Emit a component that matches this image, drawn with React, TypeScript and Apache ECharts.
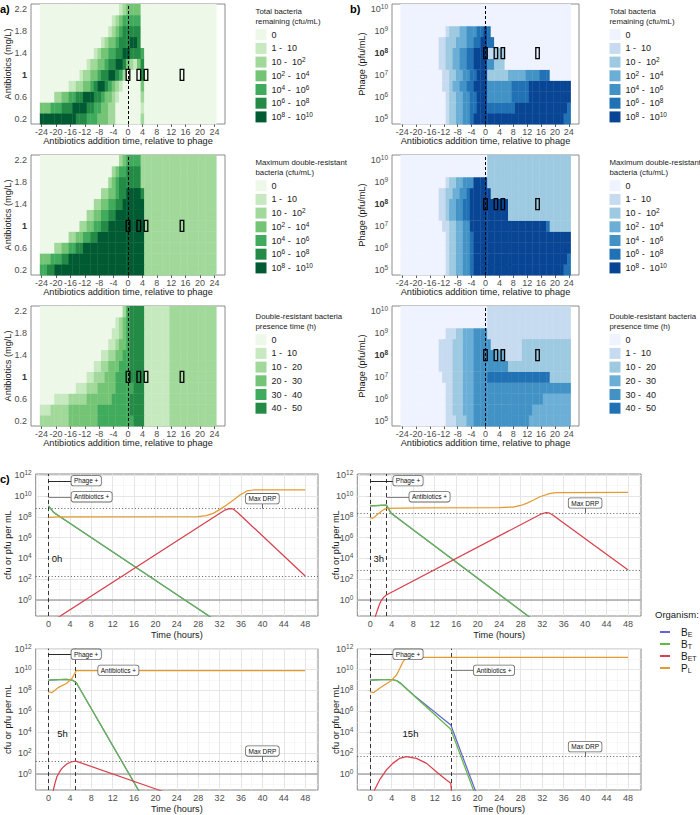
import React, { useEffect, useRef } from 'react';
import * as echarts from 'echarts';

const FONT = '"Liberation Sans", Arial, Helvetica, sans-serif';

// ---------- heatmap axes ----------
const abxLevels = ['0.2', '0.4', '0.6', '0.8', '1', '1.2', '1.4', '1.6', '1.8', '2', '2.2'];
const phageLevels = ['5', '5.5', '6', '6.5', '7', '7.5', '8', '8.5', '9', '9.5', '10'];
const timeTicks = [-24, -20, -16, -12, -8, -4, 0, 4, 8, 12, 16, 20, 24];
const firstHour = -24;
const hourCount = 49;
const markedTimes = [0, 3, 5, 15];
const markedAbxRow = 4; // 1 mg/L
const markedPhageRow = 6; // 1e8 pfu/mL

const legend7 = ['0', '1 -  10', '10 -  10{s|2}', '10{s|2} -  10{s|4}', '10{s|4} -  10{s|6}', '10{s|6} -  10{s|8}', '10{s|8} -  10{s|10}'];
const legend6 = ['0', '1 -  10', '10 -  20', '20 -  30', '30 -  40', '40 -  50'];

const greens = ['#edf8e9', '#c7e9c0', '#a1d99b', '#74c476', '#41ab5d', '#238b45', '#005a32'];
const blues = ['#eff3ff', '#c6dbef', '#9ecae1', '#6baed6', '#4292c6', '#2171b5', '#084594'];

// rows listed bottom -> top, run-length "class*count" from -24h to +24h
const aTotal = [
  '6*10 5*3 4*3 3*3 2*2 0*7 2*1 0*20',
  '3*3 4*3 5*3 6*4 5*2 4*2 3*2 2*2 0*7 1*1 0*20',
  '0*4 2*2 3*2 4*2 5*2 6*3 5*2 4*1 3*2 2*1 1*1 0*6 2*1 0*20',
  '0*8 1*2 2*2 3*2 4*1 5*1 6*2 5*1 4*1 3*1 2*1 1*1 0*5 3*1 0*20',
  '0*11 1*1 2*2 3*2 4*1 5*2 6*2 5*1 4*1 2*1 0*4 5*1 0*20',
  '0*13 1*1 2*2 3*2 4*1 5*2 6*2 5*1 3*1 2*1 1*1 3*1 5*1 0*20',
  '0*15 1*1 2*1 3*2 4*2 5*2 6*2 5*3 4*1 0*20',
  '0*17 1*1 2*1 3*2 4*1 5*2 5*1 6*2 5*1 0*21',
  '0*19 1*1 2*1 3*1 4*1 5*1 5*4 0*21',
  '0*20 1*1 2*1 3*1 4*1 4*4 0*21',
  '0*22 1*1 2*1 3*4 0*21',
];
const aMax = [
  '4*2 5*2 6*25 2*20',
  '3*3 4*3 5*2 6*21 2*20',
  '0*4 2*2 3*2 4*2 5*2 6*17 2*20',
  '0*8 2*2 3*2 4*2 5*2 6*13 2*20',
  '0*11 2*2 3*2 4*2 5*2 6*10 2*20',
  '0*13 2*2 3*2 4*2 5*2 6*8 2*20',
  '0*15 2*2 3*2 4*2 5*2 6*6 2*20',
  '0*17 2*2 3*2 4*1 5*2 6*4 5*1 2*20',
  '0*19 2*1 3*1 4*1 5*6 2*21',
  '0*20 2*1 3*1 4*2 5*4 2*21',
  '0*22 2*1 3*1 4*4 2*21',
];
const aTime = [
  '2*8 3*8 4*10 5*3 1*7 2*13',
  '1*3 2*5 3*8 4*9 5*4 1*7 2*13',
  '0*4 1*4 2*5 3*7 4*5 5*4 1*7 2*13',
  '0*10 1*3 2*3 3*5 4*5 5*3 1*7 2*13',
  '0*13 1*2 2*3 3*3 4*4 5*4 1*7 2*13',
  '0*15 1*2 2*2 3*3 4*3 5*4 1*7 2*13',
  '0*17 1*2 2*2 3*2 4*2 5*4 1*7 2*13',
  '0*19 1*2 2*1 3*2 4*1 5*4 1*7 2*13',
  '0*20 1*2 2*1 3*1 4*1 5*4 1*7 2*13',
  '0*21 1*1 2*1 3*1 4*1 5*4 1*7 2*13',
  '0*23 2*1 4*1 5*4 1*7 2*13',
];
const bTotal = [
  '0*13 1*1 2*2 3*2 4*2 5*1 6*26 5*2',
  '0*13 1*1 2*2 3*2 4*2 5*2 6*3 5*8 6*15 5*1',
  '0*13 1*1 2*2 3*2 4*2 5*2 6*3 4*7 5*5 6*12',
  '0*12 1*2 2*1 3*2 4*2 5*2 6*4 4*7 5*5 6*12',
  '0*12 1*2 2*2 3*2 4*2 5*2 6*3 2*6 3*5 4*4 5*3 0*6',
  '0*11 1*2 2*2 3*2 4*2 5*2 6*4 4*2 2*3 0*19',
  '0*11 1*2 2*2 3*2 4*2 5*2 6*4 1*2 2*3 0*19',
  '0*11 1*2 2*3 3*3 4*2 5*2 6*2 5*2 0*22',
  '0*13 1*1 2*3 3*2 4*3 5*2 6*1 5*1 0*23',
  '0*49',
  '0*49',
];
const bMax = [
  '0*13 1*1 2*2 3*2 4*2 5*1 6*26 5*2',
  '0*13 1*1 2*2 3*2 4*2 5*1 6*27 5*1',
  '0*13 1*1 2*2 3*2 4*2 5*1 6*28',
  '0*13 1*1 2*2 3*2 4*2 5*1 6*28',
  '0*12 1*2 2*2 3*2 4*2 6*22 5*1 2*6',
  '0*11 1*2 2*1 3*2 4*2 5*2 6*11 2*18',
  '0*11 1*2 2*1 3*2 4*2 5*2 6*11 2*18',
  '0*11 1*2 2*2 3*2 4*2 5*1 6*6 2*23',
  '0*13 1*1 2*2 3*2 4*3 6*4 2*24',
  '0*25 2*24',
  '0*25 2*24',
];
const bTime = [
  '0*13 1*3 2*3 3*2 4*16 3*12',
  '0*13 1*2 2*3 3*3 4*17 3*11',
  '0*13 1*2 2*3 3*3 4*20 3*8',
  '0*13 1*2 2*3 3*3 4*28',
  '0*12 1*3 2*3 3*3 4*4 5*18 2*6',
  '0*11 1*4 2*3 3*3 4*10 2*18',
  '0*11 1*4 2*3 3*3 4*6 3*3 1*5 2*14',
  '0*11 1*4 2*3 3*3 4*5 1*9 2*14',
  '0*13 1*3 2*2 3*3 4*4 1*24',
  '0*25 1*24',
  '0*25 1*24',
];

// ---------- time-course panels (log10 values) ----------
const timeBreaks = [0, 4, 8, 12, 16, 20, 24, 28, 32, 36, 40, 44, 48];
const timeMinor = [-2, 2, 6, 10, 14, 18, 22, 26, 30, 34, 38, 42, 46, 50];
const decadeBreaks = [0, 2, 4, 6, 8, 10, 12];
const decadeMinor = [-1, 1, 3, 5, 7, 9, 11];

const t0BT = [[0, 9.05], [0.5, 8.72], [1, 8.42], [1.6, 8.2], [25.5, 0], [31, -1.88]];
const t0BE = [[0, 9.05], [0.5, 8.72], [1, 8.42], [1.6, 8.2], [25.5, 0], [31, -1.88]];
const t0BET = [[0, -2.27], [33, 8.66], [33.8, 8.8], [34.5, 8.78], [35.3, 8.45], [48, 2.31]];
const t0PL = [[0, 7.96], [2, 8.0], [28, 8.02], [29.5, 8.12], [30.8, 8.34], [32, 8.7], [33.3, 9.14], [34.6, 9.62], [35.8, 10.1], [37.1, 10.5], [38.3, 10.59], [48, 10.6]];

const t3BT = [[0, 9.05], [3, 9.13], [3.4, 8.8], [3.9, 8.34], [25.4, 0], [30, -1.78]];
const t3BE = [[0, 9.05], [3, 9.13], [3.4, 8.8], [3.9, 8.34], [25.4, 0], [30, -1.78]];
const t3BET = [[0.8, -2.1], [1.0, -1.5], [1.6, -0.6], [2, -0.1], [2.5, 0.25], [3, 0.48], [31.9, 8.3], [32.6, 8.4], [33.3, 8.38], [33.9, 8.2], [48, 2.89]];
const t3PL = [[0, 7.96], [0.5, 7.86], [1.5, 8.3], [2.5, 8.7], [3, 8.82], [10, 8.86], [24, 8.9], [26.6, 8.95], [28, 9.1], [29.1, 9.3], [30.5, 9.65], [31.6, 9.94], [33.5, 10.26], [34.7, 10.33], [48, 10.35]];

const t5BT = [[0, 9.0], [2, 9.05], [3.4, 9.07], [4.4, 9.0], [5.2, 8.74], [16.8, -1.53], [17.5, -2.15]];
const t5BE = [[0, 9.0], [2, 9.05], [3.4, 9.07], [4.4, 9.0], [5.2, 8.74], [16.8, -1.53], [17.5, -2.15]];
const t5BET = [[0.7, -2.5], [0.9, -1.53], [1.2, -0.9], [1.56, -0.26], [2, 0.15], [2.5, 0.54], [3.4, 0.96], [4.2, 1.15], [5.1, 1.24], [20.6, -1.53], [21.5, -1.69]];
const t5PL = [[0, 7.88], [0.6, 7.79], [1.9, 8.3], [3.4, 8.69], [4.4, 9.17], [5.2, 9.9], [48, 9.9]];

const t15BT = [[0, 9.0], [2, 9.05], [4, 9.05], [4.9, 8.95], [5.7, 8.65], [15, 4.28], [19.5, -1.93]];
const t15BE = [[0, 9.0], [2, 9.05], [4, 9.05], [4.9, 8.95], [5.7, 8.68], [8, 7.6], [15, 4.69], [19.8, -1.9]];
const t15BET = [[0.5, -2.5], [0.8, -1.53], [1.74, -0.57], [3, 0.38], [4.2, 1.02], [5.5, 1.5], [6.7, 1.66], [8.6, 1.5], [10.5, 1.02], [12.3, 0.22], [14.2, -0.57], [15, -0.89], [15.3, -2.5]];
const t15PL = [[0, 7.88], [0.6, 7.79], [2, 8.3], [3.9, 8.94], [4.9, 9.48], [5.5, 10.1], [6.1, 10.76], [6.7, 11.1], [7.5, 11.17], [48, 11.17]];

const phageTimes = [0, 0, 0, 0];
const abxTimes = [0, 3, 5, 15];
const panelNames = ['0h', '3h', '5h', '15h'];
const maxDrp = [8.8, 8.38, 1.24, 1.66];
const finalDrp: (number | null)[] = [2.31, 2.89, null, null];

const seriesColors = { BE: '#6464d6', BT: '#63b946', BET: '#d8404d', PL: '#e39a2f' };

function decode(rows: string[]) {
  const out: number[][] = [];
  rows.forEach((row, r) => {
    const cls: number[] = [];
    row.trim().split(/\s+/).forEach((tok) => {
      const [c, n] = tok.split('*').map(Number);
      for (let k = 0; k < n; k++) cls.push(c);
    });
    while (cls.length < hourCount) cls.push(cls[cls.length - 1]);
    for (let i = 0; i < hourCount; i++) out.push([firstHour + i, r, cls[i]]);
  });
  return out;
}

const tickText = { fontSize: 9, color: '#4d4d4d', fontFamily: FONT };
const supRich = {
  n: { fontSize: 9, color: '#4d4d4d', fontFamily: FONT, lineHeight: 12 },
  s: { fontSize: 6.5, color: '#4d4d4d', fontFamily: FONT, verticalAlign: 'top', lineHeight: 8 },
  nb: { fontSize: 9, color: '#333', fontFamily: FONT, lineHeight: 12, fontWeight: 'bold' },
  sb: { fontSize: 6.5, color: '#333', fontFamily: FONT, verticalAlign: 'top', lineHeight: 8, fontWeight: 'bold' },
  b: { fontSize: 9, color: '#333', fontFamily: FONT, fontWeight: 'bold' },
};

function buildOption() {
  const heat = [
    { rows: aTotal, pal: greens, kind: 'abx', left: 31, width: 194, top: 4, title: ['Total bacteria', 'remaining (cfu/mL)'], labels: legend7, lx: 255.5, loff: 0 },
    { rows: aMax, pal: greens, kind: 'abx', left: 31, width: 194, top: 155, title: ['Maximum double-resistant', 'bacteria (cfu/mL)'], labels: legend7, lx: 255.5, loff: 151 },
    { rows: aTime, pal: greens, kind: 'abx', left: 31, width: 194, top: 306, title: ['Double-resistant bacteria', 'presence time (h)'], labels: legend6, lx: 255.5, loff: 305 },
    { rows: bTotal, pal: blues, kind: 'phage', left: 392, width: 187, top: 4, title: ['Total bacteria', 'remaining (cfu/mL)'], labels: legend7, lx: 609.5, loff: 0 },
    { rows: bMax, pal: blues, kind: 'phage', left: 392, width: 187, top: 155, title: ['Maximum double-resistant', 'bacteria (cfu/mL)'], labels: legend7, lx: 609.5, loff: 151 },
    { rows: bTime, pal: blues, kind: 'phage', left: 392, width: 187, top: 306, title: ['Double-resistant bacteria', 'presence time (h)'], labels: legend6, lx: 609.5, loff: 305 },
  ];
  const cPanels = [
    { left: 35.7, top: 474, width: 282.3, height: 142, yMin: -1.54, yMax: 12.13, BE: t0BE, BT: t0BT, BET: t0BET, PL: t0PL, lab: [1.6, 3.95], ytx: 8 },
    { left: 357.3, top: 474, width: 283.7, height: 142, yMin: -1.54, yMax: 12.13, BE: t3BE, BT: t3BT, BET: t3BET, PL: t3PL, lab: [1.6, 3.95], ytx: 336 },
    { left: 35.7, top: 648.7, width: 282.3, height: 141.3, yMin: -1.53, yMax: 12.0, BE: t5BE, BT: t5BT, BET: t5BET, PL: t5PL, lab: [2.6, 3.9], ytx: 8 },
    { left: 357.3, top: 648.7, width: 283.7, height: 141.3, yMin: -1.53, yMax: 12.0, BE: t15BE, BT: t15BT, BET: t15BET, PL: t15PL, lab: [7.5, 3.9], ytx: 336 },
  ];

  const grids: any[] = [];
  const xAxes: any[] = [];
  const yAxes: any[] = [];
  const series: any[] = [];
  const graphic: any[] = [];

  const txt = (x: number, y: number, text: string, extra: any = {}, rot = 0) => ({
    type: 'text', x, y, rotation: rot, silent: true,
    style: { text, fontSize: 9, fill: '#1a1a1a', fontFamily: FONT, align: 'left', verticalAlign: 'middle', ...extra },
  });

  heat.forEach((p, i) => {
    grids.push({ left: p.left, top: p.top, width: p.width, height: 120, show: true, borderColor: '#6e6e6e', borderWidth: 0.8, backgroundColor: 'transparent' });
    xAxes.push({
      type: 'value', gridIndex: i, min: -26.95, max: 26.95,
      axisLine: { show: false },
      axisTick: { show: true, length: 3, customValues: timeTicks, lineStyle: { color: '#333', width: 0.8 } },
      axisLabel: { customValues: timeTicks, ...tickText, margin: 3, formatter: (v: number) => String(v) },
      splitLine: { show: false },
    });
    const levels = p.kind === 'abx' ? abxLevels : phageLevels;
    yAxes.push({
      type: 'category', gridIndex: i, data: levels, boundaryGap: true,
      axisLine: { show: false },
      axisTick: { show: true, alignWithLabel: true, interval: 0, length: 3, lineStyle: { color: '#333', width: 0.8 } },
      axisLabel: {
        interval: 0, margin: 4, ...tickText, rich: supRich,
        formatter: (v: string, idx: number) => {
          if (idx % 2 === 1) return '';
          if (p.kind === 'abx') return idx === markedAbxRow ? '{b|' + v + '}' : v;
          return idx === markedPhageRow ? '{nb|10}{sb|' + v + '}' : '{n|10}{s|' + v + '}';
        },
      },
      splitLine: { show: false },
    });
    const pal = p.pal;
    series.push({
      type: 'custom', xAxisIndex: i, yAxisIndex: i, silent: true, z: 2,
      encode: { x: 0, y: 1 },
      data: decode(p.rows),
      renderItem: (_params: any, api: any) => {
        const c = api.coord([api.value(0), api.value(1)]);
        const s = api.size([1, 1]);
        return {
          type: 'rect',
          shape: { x: c[0] - s[0] / 2, y: c[1] - s[1] / 2, width: s[0] + 0.4, height: s[1] + 0.4 },
          style: { fill: pal[api.value(2)] },
        };
      },
    });
    const row = p.kind === 'abx' ? markedAbxRow : markedPhageRow;
    series.push({
      type: 'custom', xAxisIndex: i, yAxisIndex: i, silent: true, z: 4,
      encode: { x: 0, y: 1 },
      data: markedTimes.map((t) => [t, row]),
      renderItem: (_params: any, api: any) => {
        const c = api.coord([api.value(0), api.value(1)]);
        const s = api.size([1, 1]);
        return {
          type: 'rect',
          shape: { x: c[0] - s[0] / 2, y: c[1] - s[1] / 2, width: s[0], height: s[1] },
          style: { fill: 'none', stroke: '#000', lineWidth: 1.3 },
        };
      },
      markLine: {
        silent: true, symbol: ['none', 'none'], label: { show: false }, animation: false,
        lineStyle: { type: [3, 2], color: '#000', width: 1 },
        data: [{ xAxis: 0 }],
      },
    });
    // axis titles
    const cx = p.left + p.width / 2;
    graphic.push(txt(cx, p.top + 137, 'Antibiotics addition time, relative to phage', { align: 'center', fontSize: 9.2 }));
    graphic.push(txt(p.kind === 'abx' ? 8 : 362, p.top + 60, p.kind === 'abx' ? 'Antibiotics (mg/L)' : 'Phage (pfu/mL)', { align: 'center', fontSize: 9.2 }, Math.PI / 2));
    // legend
    graphic.push(txt(p.lx, 11 + p.loff, p.title[0], { fontSize: 7.8 }));
    graphic.push(txt(p.lx, 21.5 + p.loff, p.title[1], { fontSize: 7.8 }));
    p.labels.forEach((lab, k) => {
      const cy = 34.7 + 13.7 * k + p.loff;
      graphic.push({ type: 'rect', silent: true, shape: { x: p.lx, y: cy - 5.5, width: 11, height: 11 }, style: { fill: pal[k] } });
      graphic.push(txt(p.lx + 16, cy, lab, {
        fontSize: 9,
        rich: {
          s: { fontSize: 6.5, fill: '#1a1a1a', fontFamily: FONT, verticalAlign: 'top', lineHeight: 7 },
        },
        lineHeight: 12,
      }));
    });
  });

  const minorStyle = { color: '#f3f3f3', width: 0.6, type: 'solid' };
  const majorStyle = { color: '#e3e3e3', width: 0.9, type: 'solid' };
  const dotted = { color: '#333', width: 0.8, type: [1, 2.2] };
  const dashed = { color: '#222', width: 0.9, type: [4, 3] };
  const PHAGE_Y = 11.48;
  const ABX_Y = 9.93;
  const boxLabel = {
    show: true, distance: 0, fontSize: 6.5, color: '#111', fontFamily: FONT,
    backgroundColor: '#fff', borderColor: '#666', borderWidth: 0.8, borderRadius: 2, padding: [1.5, 2.5, 1, 2.5],
  };

  cPanels.forEach((p, k) => {
    const gi = 6 + k;
    grids.push({ left: p.left, top: p.top, width: p.width, height: p.height, show: true, borderColor: '#7a7a7a', borderWidth: 0.9, backgroundColor: '#fff' });
    xAxes.push({
      type: 'value', gridIndex: gi, min: -2.4, max: 50.4,
      axisLine: { show: false },
      axisTick: { show: true, length: 3, customValues: timeBreaks, lineStyle: { color: '#333', width: 0.8 } },
      axisLabel: { customValues: timeBreaks, ...tickText, margin: 3 },
      splitLine: { show: false },
    });
    yAxes.push({
      type: 'value', gridIndex: gi, min: p.yMin, max: p.yMax,
      axisLine: { show: false },
      axisTick: { show: true, length: 3, customValues: decadeBreaks, lineStyle: { color: '#333', width: 0.8 } },
      axisLabel: { customValues: decadeBreaks, ...tickText, margin: 4, rich: supRich, formatter: (v: number) => '{n|10}{s|' + v + '}' },
      splitLine: { show: false },
    });
    const pt = phageTimes[k];
    const at = abxTimes[k];
    const lines: any[] = [
      ...timeMinor.map((v) => ({ xAxis: v, lineStyle: minorStyle })),
      ...decadeMinor.map((v) => ({ yAxis: v, lineStyle: minorStyle })),
      ...timeBreaks.map((v) => ({ xAxis: v, lineStyle: majorStyle })),
      ...decadeBreaks.map((v) => ({ yAxis: v, lineStyle: majorStyle })),
      { yAxis: 0, lineStyle: { color: '#a8a8a8', width: 1.6, type: 'solid' } },
      { yAxis: maxDrp[k], lineStyle: dotted },
      { xAxis: pt, lineStyle: dashed },
      [{ coord: [pt, PHAGE_Y], lineStyle: { color: '#111', width: 0.9, type: 'solid' } }, { coord: [pt + 4.3, PHAGE_Y] }],
      [{ coord: [at, ABX_Y], lineStyle: { color: '#777', width: 0.9, type: 'solid' } }, { coord: [at + 4.3, ABX_Y] }],
      [{ coord: [40, maxDrp[k]], lineStyle: { color: '#444', width: 0.8, type: 'solid' } }, { coord: [40, maxDrp[k] + 0.5] }],
    ];
    if (at !== pt) lines.push({ xAxis: at, lineStyle: dashed });
    const fd = finalDrp[k];
    if (fd !== null) lines.push({ yAxis: fd, lineStyle: dotted });
    series.push({
      type: 'line', name: 'grid', xAxisIndex: gi, yAxisIndex: gi, silent: true, z: 1,
      data: [[-10, -10]], showSymbol: false, lineStyle: { opacity: 0 },
      markLine: { silent: true, z: 1, symbol: ['none', 'none'], label: { show: false }, animation: false, data: lines },
    });
    const order: [string, number[][]][] = [['BE', p.BE], ['BT', p.BT], ['BET', p.BET], ['PL', p.PL]];
    order.forEach(([name, data]) => {
      series.push({
        type: 'line', name, xAxisIndex: gi, yAxisIndex: gi, data, z: 3, clip: true,
        showSymbol: false, symbol: 'none', color: (seriesColors as any)[name],
        lineStyle: { width: 1.25, color: (seriesColors as any)[name] },
      });
    });
    series.push({
      type: 'line', name: 'labels', xAxisIndex: gi, yAxisIndex: gi, silent: true, z: 6,
      data: [[-10, -10]], showSymbol: false, lineStyle: { opacity: 0 },
      markPoint: {
        silent: true, z: 8, symbol: 'circle', symbolSize: 0, animation: false,
        data: [
          { coord: [pt + 4.3, PHAGE_Y], label: { ...boxLabel, position: 'right', formatter: 'Phage +' } },
          { coord: [at + 4.3, ABX_Y], label: { ...boxLabel, position: 'right', formatter: 'Antibiotics +' } },
          { coord: [40, maxDrp[k] + 0.5], label: { ...boxLabel, position: 'top', formatter: 'Max DRP' } },
          { coord: p.lab, label: { show: true, position: 'inside', formatter: panelNames[k], fontSize: 9.5, color: '#111', fontFamily: FONT } },
        ],
      },
    });
    const cx = p.left + p.width / 2;
    graphic.push(txt(cx, p.top + p.height + 19, 'Time (hours)', { align: 'center', fontSize: 9.2 }));
    graphic.push(txt(p.ytx, p.top + p.height / 2, 'cfu or pfu per mL', { align: 'center', fontSize: 9.2 }, Math.PI / 2));
  });

  graphic.push(txt(0, 9, 'a)', { fontSize: 11, fontWeight: 'bold', fill: '#000' }));
  graphic.push(txt(350, 9, 'b)', { fontSize: 11, fontWeight: 'bold', fill: '#000' }));
  graphic.push(txt(0, 479, 'c)', { fontSize: 11, fontWeight: 'bold', fill: '#000' }));
  graphic.push(txt(655, 614, 'Organism:', { fontSize: 9.5 }));

  const legendNames: Record<string, string> = { BE: '{m|B}{d|E}', BT: '{m|B}{d|T}', BET: '{m|B}{d|ET}', PL: '{m|P}{d|L}' };

  return {
    animation: false,
    textStyle: { fontFamily: FONT },
    grid: grids,
    xAxis: xAxes,
    yAxis: yAxes,
    series,
    graphic,
    legend: {
      data: ['BE', 'BT', 'BET', 'PL'], orient: 'vertical', left: 655, top: 622,
      itemWidth: 10, itemHeight: 2, itemGap: 1, icon: 'rect', selectedMode: false,
      formatter: (name: string) => legendNames[name],
      textStyle: {
        fontFamily: FONT, fontSize: 10, color: '#1a1a1a', padding: [0, 0, 0, 6],
        rich: {
          m: { fontSize: 10, color: '#1a1a1a', fontFamily: FONT, lineHeight: 12 },
          d: { fontSize: 7, color: '#1a1a1a', fontFamily: FONT, verticalAlign: 'bottom', lineHeight: 8 },
        },
      },
    },
  };
}

export default function App() {
  const ref = useRef<HTMLDivElement>(null);
  useEffect(() => {
    if (!ref.current) return;
    const chart = echarts.init(ref.current, undefined, { renderer: 'svg', width: 700, height: 815 });
    chart.setOption(buildOption() as any);
    return () => chart.dispose();
  }, []);
  return <div ref={ref} style={{ position: 'fixed', left: 0, top: 0, width: 700, height: 815, background: '#fff' }} />;
}
